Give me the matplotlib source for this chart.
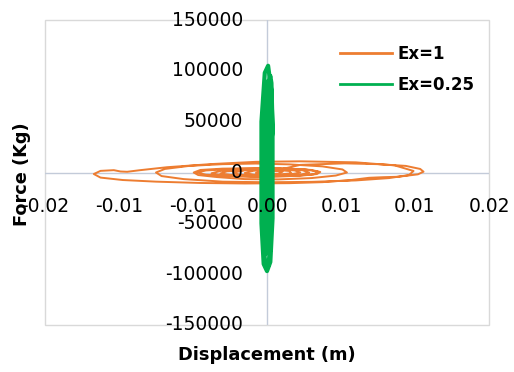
import matplotlib
matplotlib.use("Agg")
import matplotlib.pyplot as plt
from matplotlib.patches import Rectangle

# Ex=1 hysteresis path: (displacement m, force kg)
ex1_points = [
    (0.0, 0), (0.003, 7500), (0.007, 9000), (0.010, 8200), (0.0125, 6500), (0.0138, 3500),
    (0.0141, 800), (0.0136, -1800), (0.0118, -4200), (0.0105, -4600), (0.0092, -5200),
    (0.0075, -7500), (0.005, -9500), (0.002, -10500), (-0.002, -10800), (-0.006, -10300),
    (-0.010, -9000), (-0.013, -7400), (-0.0150, -5000), (-0.0156, -1500), (-0.0150, 1600),
    (-0.0138, 2300), (-0.0132, 1000), (-0.0126, 700), (-0.0115, 2200), (-0.009, 5200),
    (-0.005, 8300), (-0.001, 10500), (0.003, 11000), (0.008, 10000), (0.0115, 7000),
    (0.0132, 1500), (0.0128, -2500), (0.011, -5500), (0.008, -7800), (0.004, -9200),
    (0.0, -9600), (-0.004, -9000), (-0.0075, -6500), (-0.0095, -3500), (-0.0100, 0),
    (-0.0092, 3500), (-0.007, 6500), (-0.004, 8200), (-0.001, 8800), (0.002, 8000),
    (0.005, 6000), (0.0068, 3000), (0.0072, 0), (0.0062, -3000), (0.004, -5500),
    (0.001, -6800), (-0.002, -6500), (-0.0045, -4500), (-0.0062, -2500), (-0.0066, 0),
    (-0.0060, 2500), (-0.004, 3800), (-0.001, 4200), (0.002, 3800), (0.0040, 2500),
    (0.0048, 500), (0.0045, -1500), (0.003, -3200), (0.0, -4200), (-0.003, -3600),
    (-0.0055, -2200), (-0.0063, 0), (-0.0055, 2000), (-0.003, 3500), (0.001, 4000),
    (0.0035, 3000), (0.0046, 800), (0.0042, -1800), (0.002, -3500), (-0.0015, -4000),
    (-0.0040, -3000), (-0.0050, -800), (-0.0042, 1500), (-0.002, 3200), (0.0012, 3600),
    (0.0032, 2200), (0.0038, 0), (0.0030, -2200), (0.0, -3400), (-0.0030, -2800),
    (-0.0042, -1000), (-0.0036, 1200), (-0.0015, 2800), (0.0010, 3200), (0.0025, 2000),
    (0.0030, 0), (0.0020, -2200), (-0.0005, -3000), (-0.0025, -2200), (-0.0030, 0),
    (-0.0020, 2200), (0.0005, 2800), (0.0020, 1500), (0.0022, -800), (0.0008, -2400),
    (-0.0012, -2200), (-0.0020, -500), (-0.0012, 1800), (0.0005, 2200), (0.0014, 800),
    (0.0010, -1200), (-0.0004, -1800), (-0.0010, -400), (-0.0004, 1200), (0.0006, 900),
    (0.0004, -600), (0.0, 0),
]

# Ex=0.25 hysteresis path: (displacement m, force kg)
ex025_points = [
    (0.0, 0), (0.0005, 40000), (0.0004, 80000), (0.0001, 105000), (-0.0002, 98000),
    (-0.0005, 50000), (-0.0005, 0), (-0.0005, -50000), (-0.0003, -90000), (0.0, -97000),
    (0.0003, -88000), (0.0005, -45000), (0.0005, 0), (0.0005, 45000), (0.0004, 88000),
    (0.0003, 95000), (0.0001, 85000), (-0.0003, 50000), (-0.0004, 0), (-0.0004, -50000),
    (-0.0002, -85000), (0.0001, -92000), (0.0003, -75000), (0.0004, -30000), (0.0004, 20000),
    (0.0003, 70000), (0.0001, 90000), (-0.0002, 80000), (-0.0004, 40000), (-0.0004, -20000),
    (-0.0003, -65000), (-0.0001, -80000), (0.0002, -70000), (0.0004, -20000), (0.0003, 40000),
    (0.0001, 70000), (-0.0002, 60000), (-0.0003, 10000), (-0.0003, -40000), (-0.0001, -60000),
    (0.0002, -40000), (0.0003, 10000), (0.0001, 45000), (-0.0002, 30000), (-0.0002, -20000),
    (0.0, -30000), (0.0002, 0), (0.0001, 60000), (-0.0001, 75000), (-0.0001, -70000),
    (0.0001, -50000), (0.0, 0),
]

x_ticks = [-0.02, -0.0133333, -0.0066667, 0.0, 0.0066667, 0.0133333, 0.02]
x_tick_labels = ["-0.02", "-0.01", "-0.01", "0.00", "0.01", "0.01", "0.02"]
y_ticks = [-150000, -100000, -50000, 0, 50000, 100000, 150000]
y_tick_labels = ["-150000", "-100000", "-50000", "0", "50000", "100000", "150000"]

ex1_x, ex1_y = zip(*ex1_points)
ex025_x, ex025_y = zip(*ex025_points)

plt.rcParams['font.family'] = ['DejaVu Sans']
fig = plt.figure(figsize=(5.14, 3.72), dpi=100)
ax = fig.add_axes([45/514, 47/372, 444/514, 305/372])
ax.set_xlim(-0.02, 0.02)
ax.set_ylim(-150000, 150000)

axis_col = '#C3CBD9'
ax.axhline(0, color=axis_col, lw=1, zorder=1)
ax.axvline(0, color=axis_col, lw=1, zorder=1)

ax.plot(ex1_x, ex1_y, color='#ED7D31', lw=1.4, label='Ex=1', zorder=3)
ax.plot(ex025_x, ex025_y, color='#00B050', lw=3.0, label='Ex=0.25', zorder=4)

for s in ax.spines.values():
    s.set_visible(False)
ax.add_patch(Rectangle((0, 0), 1, 1, transform=ax.transAxes, fill=False,
                       edgecolor='#D9D9D9', lw=1, zorder=0, clip_on=False))
ax.set_xticks([])
ax.set_yticks([])

fs = 13.5
for v, lab in zip(x_ticks, x_tick_labels):
    ax.annotate(lab, (v, 0), xytext=(0, -24), textcoords='offset pixels',
                ha='center', va='top', fontsize=fs, zorder=5, annotation_clip=False)
for v, lab in zip(y_ticks, y_tick_labels):
    ax.annotate(lab, (0, v), xytext=(-24, 0), textcoords='offset pixels',
                ha='right', va='center', fontsize=fs, zorder=5, annotation_clip=False)

fig.text(267/514, 1 - 355/372, 'Displacement (m)', ha='center', va='center',
         fontsize=12.8, fontweight='bold')
fig.text(22/514, 1 - 174/372, 'Force (Kg)', ha='center', va='center',
         fontsize=12.8, fontweight='bold', rotation=90)

leg = ax.legend(loc='upper left', bbox_to_anchor=(327/514, 1 - 32/372),
                bbox_transform=fig.transFigure, frameon=False,
                prop={'weight': 'bold', 'size': 12}, handlelength=3.1,
                labelspacing=0.75, handletextpad=0.35, borderpad=0.3)
for h in leg.legend_handles:
    h.set_linewidth(2)

fig.savefig('out.png', dpi=100)
